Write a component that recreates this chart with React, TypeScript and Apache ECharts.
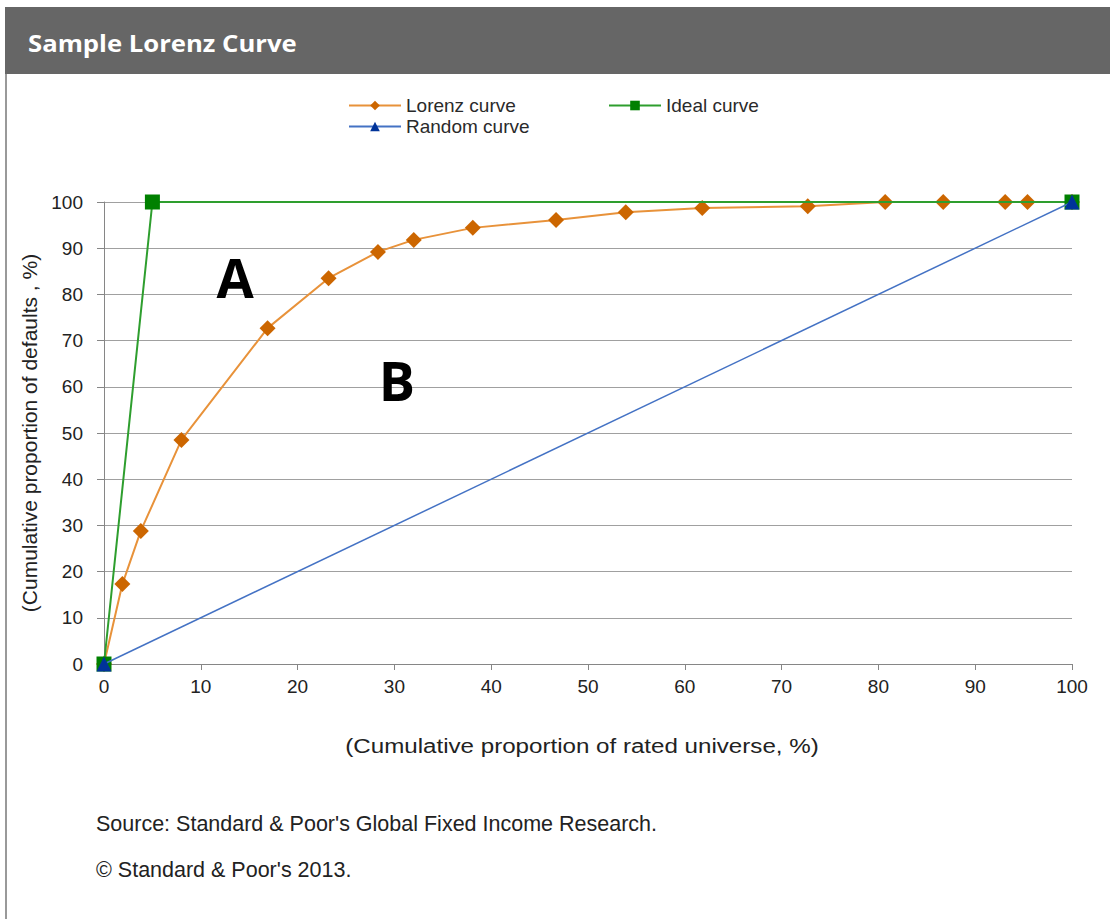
import React, { useEffect, useRef } from "react";
import * as echarts from "echarts";

const lorenzX = [0, 1.9, 3.8, 8.0, 16.9, 23.2, 28.3, 32.0, 38.1, 46.7, 53.9, 61.8, 72.7, 80.7, 86.7, 93.1, 95.4, 100];
const lorenzY = [0, 17.3, 28.8, 48.5, 72.7, 83.5, 89.2, 91.8, 94.4, 96.1, 97.8, 98.7, 99.1, 100, 100, 100, 100, 100];
const idealX = [0, 5, 100];
const idealY = [0, 100, 100];
const randomX = [0, 100];
const randomY = [0, 100];
const seriesNames = ["Lorenz curve", "Ideal curve", "Random curve"];
const titleText = "Sample Lorenz Curve";
const xTitle = "(Cumulative proportion of rated universe, %)";
const yTitle = "(Cumulative proportion of defaults , %)";
const sourceText = "Source: Standard & Poor's Global Fixed Income Research.";
const copyText = "\u00A9 Standard & Poor's 2013.";

const zip = (xs: number[], ys: number[]) => xs.map((x, i) => [x, ys[i]]);

export default function App() {
  const ref = useRef<HTMLDivElement>(null);
  useEffect(() => {
    if (!ref.current) return;
    const chart = echarts.init(ref.current, null, { renderer: "svg" });
    const font = "'Liberation Sans', Arial, sans-serif";
    const legendBase = {
      itemWidth: 52,
      itemHeight: 12,
      itemGap: 4,
      textStyle: { fontFamily: font, fontSize: 19, color: "#2a2a2a", padding: [0, 0, 0, 0] },
    };
    chart.setOption({
      animation: false,
      backgroundColor: "#fff",
      legend: [
        { ...legendBase, left: 343, top: 91, data: [seriesNames[0]] },
        { ...legendBase, left: 603, top: 91, data: [seriesNames[1]] },
        { ...legendBase, left: 343, top: 112, data: [seriesNames[2]] },
      ],
      grid: { left: 104, right: 38, top: 202, bottom: 255, containLabel: false },
      xAxis: {
        type: "value",
        min: 0,
        max: 100,
        interval: 10,
        axisLine: { lineStyle: { color: "#868686", width: 1 } },
        axisTick: { show: true, length: 6, lineStyle: { color: "#868686" } },
        axisLabel: { fontFamily: font, fontSize: 19, color: "#222", margin: 13 },
        splitLine: { show: false },
      },
      yAxis: {
        type: "value",
        min: 0,
        max: 100,
        interval: 10,
        name: yTitle,
        nameLocation: "middle",
        nameGap: 56,
        nameTextStyle: { fontFamily: font, fontSize: 21, color: "#222" },
        axisLine: { show: true, lineStyle: { color: "#868686", width: 1 } },
        axisTick: { show: true, length: 7, lineStyle: { color: "#868686" } },
        axisLabel: { fontFamily: font, fontSize: 19, color: "#222", margin: 21 },
        splitLine: { show: true, lineStyle: { color: "#a0a0a0", width: 1 } },
      },
      series: [
        {
          name: seriesNames[0],
          type: "line",
          data: zip(lorenzX, lorenzY),
          symbol: "diamond",
          symbolSize: 16,
          lineStyle: { color: "#E8923A", width: 2 },
          itemStyle: { color: "#CC6600" },
          z: 2,
        },
        {
          name: seriesNames[1],
          type: "line",
          data: zip(idealX, idealY),
          symbol: "rect",
          symbolSize: 15,
          lineStyle: { color: "#2E9E2E", width: 2 },
          itemStyle: { color: "#008000" },
          z: 3,
        },
        {
          name: seriesNames[2],
          type: "line",
          data: zip(randomX, randomY),
          symbol: "triangle",
          symbolSize: 15,
          lineStyle: { color: "#4472C4", width: 1.5 },
          itemStyle: { color: "#003399" },
          z: 4,
        },
      ],
      graphic: [
        { type: "rect", shape: { x: 5, y: 7, width: 1105, height: 67 }, style: { fill: "#666666" }, z: 10 },
        { type: "line", shape: { x1: 6, y1: 74, x2: 6, y2: 919 }, style: { stroke: "#999999", lineWidth: 2 }, z: 10 },
        {
          type: "text",
          x: 28,
          y: 42,
          scaleX: 1.07,
          style: { text: titleText, fill: "#fff", font: "bold 24px 'Open Sans', sans-serif", textVerticalAlign: "middle" },
          z: 11,
        },
        {
          type: "text",
          x: 235,
          y: 277,
          style: { text: "A", fill: "#000", font: "bold 54px 'Open Sans', sans-serif", textAlign: "center", textVerticalAlign: "middle" },
          z: 11,
        },
        {
          type: "text",
          x: 397,
          y: 380,
          style: { text: "B", fill: "#000", font: "bold 54px 'Open Sans', sans-serif", textAlign: "center", textVerticalAlign: "middle" },
          z: 11,
        },
        {
          type: "text",
          x: 582,
          y: 746,
          scaleX: 1.15,
          style: { text: xTitle, fill: "#222", font: "21px 'Liberation Sans', Arial, sans-serif", textAlign: "center", textVerticalAlign: "middle" },
        },
        {
          type: "text",
          x: 96,
          y: 824,
          style: { text: sourceText, fill: "#222", font: "21.5px 'Liberation Sans', Arial, sans-serif", textVerticalAlign: "middle" },
        },
        {
          type: "text",
          x: 96,
          y: 870,
          style: { text: copyText, fill: "#222", font: "21.5px 'Liberation Sans', Arial, sans-serif", textVerticalAlign: "middle" },
        },
      ],
    });
    return () => chart.dispose();
  }, []);
  return <div ref={ref} style={{ position: "fixed", left: 0, top: 0, width: 1110, height: 919 }} />;
}
